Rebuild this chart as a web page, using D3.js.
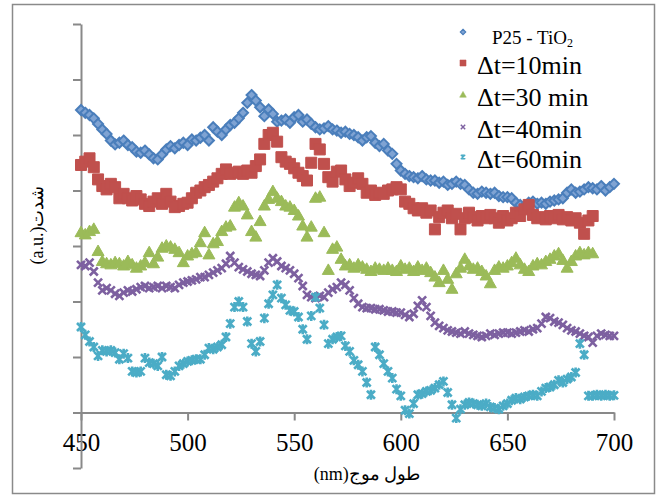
<!DOCTYPE html>
<html>
<head>
<meta charset="utf-8">
<script src="https://cdn.jsdelivr.net/npm/d3@7"></script>
<style>
  body { margin: 0; background: #fff; }
  svg text { font-family: "Liberation Serif", "Times New Roman", "DejaVu Serif", serif; }
</style>
</head>
<body>
<div id="chart"></div>
<script>
// wavelength grid (nm), read every 2 nm
var wavelength = [
  450,452,454,456,458,460,462,464,466,468,
  470,472,474,476,478,480,482,484,486,488,
  490,492,494,496,498,500,502,504,506,508,
  510,512,514,516,518,520,522,524,526,528,
  530,532,534,536,538,540,542,544,546,548,
  550,552,554,556,558,560,562,564,566,568,
  570,572,574,576,578,580,582,584,586,588,
  590,592,594,596,598,600,602,604,606,608,
  610,612,614,616,618,620,622,624,626,628,
  630,632,634,636,638,640,642,644,646,648,
  650,652,654,656,658,660,662,664,666,668,
  670,672,674,676,678,680,682,684,686,688,
  690,692,694,696,698,700
];

// intensity (a.u.), one tick = 10
var p25 = [
  54.5,54.0,53.6,53.0,52.0,51.0,50.2,49.0,48.3,48.6,
  49.0,48.2,47.8,47.0,46.8,47.2,46.5,45.8,45.6,46.5,
  47.4,48.0,47.6,48.2,48.6,48.2,49.2,49.0,49.5,50.0,
  49.0,51.4,50.6,50.0,51.0,51.8,52.2,53.0,54.0,55.8,
  57.2,56.2,55.0,53.4,54.6,53.8,52.4,52.6,52.8,52.2,
  53.2,53.6,52.4,52.8,52.0,51.4,51.0,51.2,51.6,51.0,
  50.8,50.4,50.6,50.2,50.0,49.6,49.0,49.6,49.8,48.6,
  48.0,48.4,47.2,46.6,44.8,43.6,43.0,42.6,42.4,42.2,
  42.6,42.0,41.8,41.8,41.4,41.6,41.0,41.2,41.6,41.2,
  41.0,40.2,39.6,39.4,39.8,39.6,39.4,39.6,39.0,38.8,
  38.8,38.6,37.8,37.4,37.2,37.8,38.0,37.6,37.8,37.6,
  38.0,38.2,38.4,38.6,39.6,40.2,39.6,39.8,40.2,40.6,
  40.4,40.2,40.8,40.0,40.6,41.2
];

var t10 = [
  44.6,45.2,45.8,44.2,42.0,40.8,40.2,41.2,40.6,38.6,
  39.4,38.6,38.2,39.0,38.4,37.6,37.2,38.0,38.6,37.6,
  39.4,38.0,37.0,37.2,37.6,37.8,38.6,39.6,40.0,40.6,
  41.0,41.6,42.2,43.0,43.8,43.0,43.2,43.4,43.0,43.6,
  43.2,44.4,45.6,48.4,50.0,50.4,48.8,46.0,45.2,44.8,
  44.0,43.2,42.6,41.8,45.0,48.4,47.4,44.8,42.4,41.6,
  43.4,43.6,42.0,40.8,41.4,42.2,41.2,39.6,40.0,39.2,
  39.6,39.4,40.0,40.2,40.6,40.2,38.0,37.6,36.8,36.4,
  36.8,36.0,36.4,33.0,35.2,36.0,36.4,35.0,35.8,33.0,
  35.0,36.0,35.2,34.6,35.4,35.0,35.6,35.0,34.2,35.4,
  34.6,35.0,36.0,35.4,36.6,37.4,35.6,35.0,35.2,34.8,
  35.4,35.0,35.6,34.8,35.2,34.6,35.0,34.2,32.2,34.6,
  35.4
];

var t30 = [
  32.4,32.0,32.6,33.0,29.0,27.2,26.8,26.6,27.0,26.8,
  26.4,27.2,26.6,26.0,26.4,27.0,28.8,26.8,28.0,29.6,
  30.0,29.8,29.4,28.8,27.0,28.2,28.6,28.8,30.6,32.4,
  28.4,30.4,30.8,32.6,33.4,33.6,37.0,37.8,37.2,35.6,
  32.6,31.6,34.4,37.2,38.4,39.8,38.6,38.0,37.2,37.0,
  36.4,35.4,33.6,31.6,33.4,38.6,38.8,32.4,25.6,29.4,
  29.8,27.6,26.4,26.6,26.0,26.6,26.2,25.8,25.4,26.0,
  25.8,25.6,26.0,25.6,25.4,26.4,25.8,26.0,25.4,26.2,
  25.6,26.0,25.2,24.4,23.4,25.6,24.0,22.2,25.0,26.0,
  27.6,26.4,25.8,26.0,25.4,24.6,23.2,25.6,26.2,26.0,
  26.4,27.0,27.8,26.6,25.8,25.4,26.4,26.8,26.6,27.2,
  27.6,28.2,28.6,27.4,26.0,27.2,28.2,28.8,28.4,28.8,
  28.6
];

var t40 = [
  26.6,26.4,27.0,25.4,23.4,22.0,22.4,22.0,21.4,21.0,
  21.6,22.0,21.8,22.2,22.6,22.8,22.4,22.6,22.8,22.4,
  22.8,22.6,22.4,23.0,23.4,23.6,23.8,24.0,24.4,24.4,
  24.8,25.2,25.6,26.0,26.8,28.2,27.0,26.2,25.8,25.4,
  25.0,24.8,24.6,25.6,27.0,27.8,27.2,26.4,26.0,25.6,
  25.0,24.2,22.8,21.2,20.8,20.6,21.0,20.8,21.6,22.2,
  22.6,23.4,23.0,22.0,20.6,19.6,19.0,18.8,18.8,18.6,
  18.6,18.4,18.2,18.2,18.0,18.0,17.6,17.2,17.8,19.2,
  20.2,19.0,17.4,16.2,15.6,15.2,14.8,14.6,14.4,14.2,
  14.6,14.2,14.0,13.8,13.6,13.8,14.2,14.0,14.2,14.4,
  14.4,14.2,14.4,14.6,14.8,14.6,15.0,15.2,16.0,17.2,
  17.0,16.4,16.2,15.8,15.2,14.8,14.6,14.2,13.8,13.6,
  12.6,13.8,14.2,14.0,13.8,13.8
];

var t60 = [
  15.4,14.0,12.8,11.8,10.2,11.2,11.0,11.2,10.8,9.6,
  10.6,9.8,7.4,7.2,7.4,9.8,9.0,8.8,8.4,10.0,
  6.8,6.6,7.4,8.4,8.8,9.2,9.4,9.6,9.6,10.4,
  11.6,11.4,11.8,12.2,13.6,16.0,19.0,20.0,19.0,16.4,
  12.4,11.0,12.8,17.0,19.6,21.2,23.0,20.6,19.4,18.4,
  18.2,17.2,15.0,13.2,17.4,20.8,18.8,15.8,12.4,13.2,
  13.6,13.8,12.0,11.0,9.4,8.6,7.4,5.4,3.2,11.8,
  10.4,8.8,7.4,6.2,4.2,3.0,0.4,-0.2,1.6,3.2,
  3.4,3.8,4.0,4.4,5.0,5.6,3.6,1.4,-1.0,0.6,
  1.4,1.8,1.6,1.4,1.2,1.6,1.0,0.8,0.6,1.2,
  1.6,2.2,2.6,2.4,2.8,3.0,3.2,3.0,3.8,4.4,
  4.6,5.0,5.8,5.4,6.0,6.4,7.2,12.4,10.4,3.0,
  3.0,3.2,3.0,3.2,3.0,3.1
];

var xTicks = [450, 500, 550, 600, 650, 700];
var yTicks = [-10, 0, 10, 20, 30, 40, 50, 60, 70];
var legendLabels = ["P25 - TiO", "\u0394t=10min", "\u0394t=30 min", "\u0394t=40min", "\u0394t=60min"];

var width = 660, height = 497;
var axisColor = "#898989";

var svg = d3.select("#chart").append("svg")
    .attr("width", width)
    .attr("height", height);

// outer frame
svg.append("rect")
    .attr("x", 12.5).attr("y", 4.5)
    .attr("width", 642).attr("height", 489)
    .attr("fill", "none")
    .attr("stroke", "#8a8a8a")
    .attr("stroke-width", 1.5);

var x = d3.scaleLinear().domain([450, 700]).range([81, 614]);
var y = d3.scaleLinear().domain([-10, 70]).range([468, 24]);

// marker shapes
var shapes = {
  diamond: { d: "M0,-5L5,0L0,5L-5,0Z", fill: "#7fa3d3", stroke: "#4a7ebb", sw: 2 },
  square: { d: "M-5.5,-5.5H5.5V5.5H-5.5Z", fill: "#c0504d", stroke: "#c0504d", sw: 1 },
  triangle: { d: "M0,-6.5L6,4L-6,4Z", fill: "#9bbb59", stroke: "#9bbb59", sw: 1 },
  cross: { d: "M-4,-4L4,4M-4,4L4,-4", fill: "none", stroke: "#7d60a0", sw: 2.6 },
  star: { d: "M-4,-4L4,4M-4,4L4,-4M0,-5V5", fill: "none", stroke: "#4bacc6", sw: 2.6 }
};

var series = [
  { values: p25, shape: "diamond" },
  { values: t10, shape: "square" },
  { values: t30, shape: "triangle" },
  { values: t40, shape: "cross" },
  { values: t60, shape: "star" }
];

// axes
var xAxis = svg.append("g")
    .attr("transform", "translate(0," + y(0) + ")")
    .call(d3.axisBottom(x).tickValues(xTicks).tickSize(8).tickSizeOuter(0).tickPadding(13));

var yAxis = svg.append("g")
    .attr("transform", "translate(" + x(450) + ",0)")
    .call(d3.axisLeft(y).tickValues(yTicks).tickSize(8).tickSizeOuter(0).tickFormat(""));

[xAxis, yAxis].forEach(function(a) {
  a.select(".domain").attr("stroke", axisColor).attr("stroke-width", 2);
  a.selectAll(".tick line").attr("stroke", axisColor).attr("stroke-width", 2);
});
xAxis.selectAll(".tick text")
    .attr("fill", "#000")
    .style("font-size", "25px")
    .style("font-family", "'Liberation Serif', serif");

// points
series.forEach(function(s) {
  var sh = shapes[s.shape];
  var pts = s.values.map(function(v, i) { return [wavelength[i], v]; });
  svg.append("g").selectAll("path")
      .data(pts)
    .enter().append("path")
      .attr("d", sh.d)
      .attr("transform", function(d) { return "translate(" + x(d[0]) + "," + y(d[1]) + ")"; })
      .attr("fill", sh.fill)
      .attr("stroke", sh.stroke)
      .attr("stroke-width", sh.sw);
});

// axis titles
svg.append("text")
    .attr("x", 367).attr("y", 480)
    .attr("text-anchor", "middle")
    .style("font-size", "18px")
    .text("(nm)\u0637\u0648\u0644 \u0645\u0648\u062c");

svg.append("text")
    .attr("transform", "translate(43,225) rotate(-90)")
    .attr("text-anchor", "middle")
    .style("font-size", "18px")
    .text("(a.u.)\u0634\u062f\u062a");

// legend
var legendY = [32, 63, 95, 127, 157];
var legend = svg.append("g");
series.forEach(function(s, i) {
  var sh = shapes[s.shape];
  legend.append("path")
      .attr("d", sh.d)
      .attr("transform", "translate(463," + legendY[i] + ") scale(0.55)")
      .attr("fill", sh.fill)
      .attr("stroke", sh.stroke)
      .attr("stroke-width", sh.sw);
  if (i === 0) {
    var t = legend.append("text")
        .attr("x", 492).attr("y", 44)
        .style("font-size", "19px")
        .text(legendLabels[i]);
    t.append("tspan")
        .attr("dy", 3)
        .style("font-size", "12px")
        .text("2");
  } else {
    legend.append("text")
        .attr("x", 477).attr("y", legendY[i] + 11)
        .style("font-size", "26px")
        .text(legendLabels[i]);
  }
});
</script>
</body>
</html>
